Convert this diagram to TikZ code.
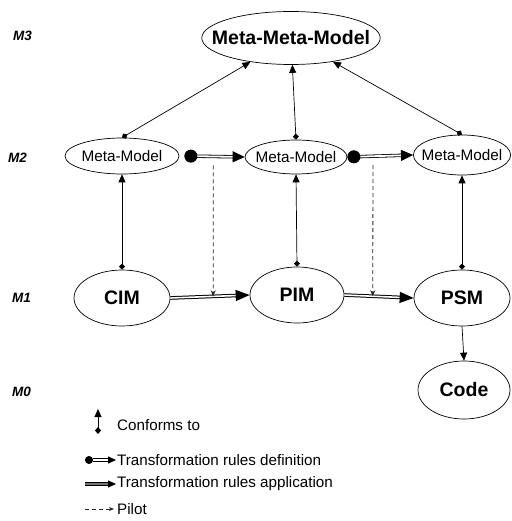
\documentclass[tikz,border=0pt]{standalone}
\usepackage{fontspec}
\setmainfont{Liberation Sans}
\usetikzlibrary{arrows.meta, positioning, shapes.geometric}

\begin{document}
\begin{tikzpicture}[
        x=1pt, y=-1pt,
        model/.style={
            draw,
            ellipse,
            inner sep=0pt,
            line width=0.7pt,
            font=\fontsize{19.5}{22}\selectfont\bfseries
        },
        metamodel/.style={
            model,
            inner xsep=-6pt,
            font=\fontsize{15.3}{18}\selectfont
        },
        level/.style={
            anchor=west,
            inner sep=0pt,
            font=\fontsize{13.5}{15}\selectfont\bfseries\itshape
        },
        conforms/.style={
            {Diamond[length=6pt,width=6pt]}-{Triangle[length=8pt,width=7pt]},
            line width=0.7pt
        },
        ruledef/.style={
            {Circle[length=13pt]}-{Triangle[length=12pt,width=11pt]},
            double,
            double distance=1.8pt,
            line width=0.8pt
        },
        ruleapp/.style={
            -{Triangle[length=14pt,width=11pt]},
            double,
            double distance=1.6pt,
            line width=1pt
        },
        pilot/.style={
            -{Stealth[length=6pt,width=5pt]},
            dash pattern=on 4pt off 3pt,
            line width=0.8pt,
            black!85
        },
        legendtext/.style={
            anchor=west,
            inner sep=0pt,
            font=\fontsize{15.2}{18}\selectfont
        }
    ]

        \useasboundingbox (0,0) rectangle (511,521);

        % ---------------------------------------------------------------------
        % Levels
        % ---------------------------------------------------------------------

        \node[level] (m3) at (13,36) {M3};
        \node[level] (m2) at (8,158) {M2};
        \node[level] (m1) at (12,298) {M1};
        \node[level] (m0) at (12,392) {M0};

        % ---------------------------------------------------------------------
        % Models
        % ---------------------------------------------------------------------

        \node[
            model,
            inner xsep=-16pt,
            minimum width=177pt,
            minimum height=53pt
        ] (mmm) at (291,38) {Meta-Meta-Model};

        \node[
            metamodel,
            minimum width=114pt,
            minimum height=36pt
        ] (mm1) at (122,156) {Meta-Model};

        \node[
            metamodel,
            minimum width=102pt,
            minimum height=34pt
        ] (mm2) at (296,157) {Meta-Model};

        \node[
            metamodel,
            minimum width=97pt,
            minimum height=40pt
        ] (mm3) at (462,155) {Meta-Model};

        \node[
            model,
            minimum width=96pt,
            minimum height=56pt
        ] (cim) at (122,298) {CIM};

        \node[
            model,
            minimum width=94pt,
            minimum height=56pt
        ] (pim) at (297,295) {PIM};

        \node[
            model,
            minimum width=96pt,
            minimum height=56pt
        ] (psm) at (462,298) {PSM};

        \node[
            model,
            minimum width=92pt,
            minimum height=58pt
        ] (code) at (464,390) {Code};

        % ---------------------------------------------------------------------
        % Conformance
        % ---------------------------------------------------------------------

        \draw[conforms] (mm1.north) -- (mmm);
        \draw[conforms] (mm2.north) -- (mmm);
        \draw[conforms] (mm3.north) -- (mmm);

        \draw[conforms] (cim.north) -- (mm1.south);
        \draw[conforms] (pim.north) -- (mm2.south);
        \draw[conforms] (psm.north) -- (mm3.south);

        \draw[-{Triangle[length=8pt,width=7pt]}, line width=0.7pt]
            (psm.south) -- (code.north);

        % ---------------------------------------------------------------------
        % Transformation rules
        % ---------------------------------------------------------------------

        \coordinate (def1start) at ([xshift=5pt]mm1.east);

        \draw[ruledef]
            (def1start) -- coordinate[pos=0.48] (def1) (mm2.west);
        \draw[ruledef]
            (mm2.east) -- coordinate[pos=0.39] (def2) (mm3.west);

        \draw[ruleapp]
            (cim.east) -- coordinate[pos=0.54] (app1) (pim.west);
        \draw[ruleapp]
            (pim.east) -- coordinate[pos=0.41] (app2) (psm.west);

        \draw[pilot] ([yshift=-9pt]def1) -- (app1);
        \draw[pilot] ([yshift=-9pt]def2) -- (app2);

        % ---------------------------------------------------------------------
        % Legend
        % ---------------------------------------------------------------------

        \node[legendtext] (lconf) at (117,425) {Conforms to};
        \node[legendtext] (ldef) at (117,460) {Transformation rules definition};
        \node[legendtext] (lapp) at (117,484) {Transformation rules application};
        \node[legendtext] (lpil) at (117,509) {Pilot};

        \coordinate (lconfa) at (98,434);
        \coordinate (lconfb) at (98,409);
        \draw[conforms, line width=1pt, {Diamond[length=7pt,width=6pt]}-{Triangle[length=8pt,width=7pt]}]
            (lconfa) -- (lconfb);

        \coordinate (ldefa) at (85,460);
        \draw[ruledef, line width=1pt, double distance=1.2pt, {Circle[length=8pt]}-{Triangle[length=8pt,width=7pt]}]
            (ldefa) -- ([xshift=-1pt]ldef.west);

        \coordinate (lappa) at (85,484);
        \draw[ruleapp, double=black!55, double distance=1.4pt, -{Triangle[length=8pt,width=7pt]}]
            (lappa) -- ([xshift=-1pt]lapp.west);

        \coordinate (lpila) at (85,509);
        \draw[pilot, -{Stealth[length=5pt,width=4pt]}]
            (lpila) -- ([xshift=-3pt]lpil.west);

    \end{tikzpicture}
\end{document}
